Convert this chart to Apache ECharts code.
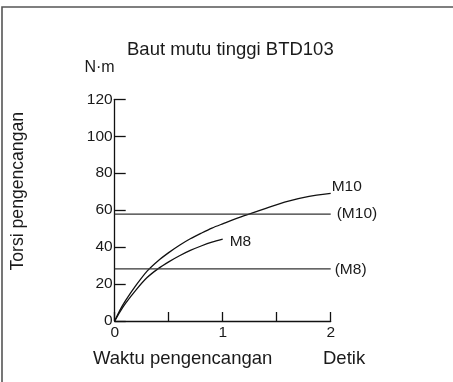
<!DOCTYPE html>
<html>
<head>
<meta charset="utf-8">
<script src="https://cdn.jsdelivr.net/npm/echarts@6/dist/echarts.min.js"></script>
<style>
  html, body { margin: 0; padding: 0; background: #fff; }
  #chart { width: 453px; height: 382px; }
</style>
</head>
<body>
<div id="chart"></div>
<script>
// Tightening time (s) vs. tightening torque (N·m) for BTD103 high-strength bolts
const m10Time   = [0, 0.05, 0.1, 0.2, 0.3, 0.4, 0.5, 0.6, 0.7, 0.8, 0.9, 1.0, 1.2, 1.4, 1.6, 1.8, 2.0];
const m10Torque = [0, 6, 11, 19.5, 27, 32.5, 37, 41, 44.5, 47.5, 50.3, 52.6, 57, 61, 64.8, 67.5, 69.1];
const m8Time    = [0, 0.05, 0.1, 0.2, 0.3, 0.4, 0.5, 0.6, 0.7, 0.8, 0.9, 1.0];
const m8Torque  = [0, 5, 9.5, 17, 23.5, 28.2, 32, 35.3, 38.2, 40.6, 42.7, 44.3];
// Reference torque levels
const refNames  = ['(M10)', '(M8)'];
const refLevels = [57.8, 28.2];
const refSpan   = [0, 2];
const xTickLabels = ['0', '1', '2'];
const yTicks = [0, 20, 40, 60, 80, 100, 120];

const FONT = '"Liberation Sans", Arial, sans-serif';
const INK = '#1a1a1a';

function pairs(xs, ys) { return xs.map((x, i) => [x, ys[i]]); }

function endLabel(text, offset) {
  return { show: true, formatter: text, distance: 0, offset: offset,
    fontFamily: FONT, fontSize: 15.5, color: INK };
}

const curveStyle = { color: '#111', width: 1.3 };
const refStyle = { color: '#333', width: 1.3 };

const series = [
  { name: 'M10', type: 'line', smooth: 0.3, symbol: 'none', showSymbol: false,
    lineStyle: curveStyle, silent: true,
    endLabel: endLabel('M10', [1, -7]),
    data: pairs(m10Time, m10Torque) },
  { name: 'M8', type: 'line', smooth: 0.3, symbol: 'none', showSymbol: false,
    lineStyle: curveStyle, silent: true,
    endLabel: endLabel('M8', [7, 3]),
    data: pairs(m8Time, m8Torque) }
];
const refOffsets = [[6, 0], [4, 1]];
refLevels.forEach((lv, i) => {
  series.push({ name: refNames[i], type: 'line', symbol: 'none', showSymbol: false,
    lineStyle: refStyle, silent: true,
    endLabel: endLabel(refNames[i], refOffsets[i]),
    data: refSpan.map(x => [x, lv]) });
});

const chart = echarts.init(document.getElementById('chart'), null, { renderer: 'canvas' });
chart.setOption({
  animation: false,
  backgroundColor: '#fff',
  title: {
    text: 'Baut mutu tinggi BTD103',
    left: 122, top: 35,
    textStyle: { fontFamily: FONT, fontSize: 18.5, fontWeight: 'normal', color: INK }
  },
  grid: { left: 114.7, right: 122.3, top: 99.3, bottom: 61, containLabel: false },
  xAxis: {
    type: 'value', min: 0, max: 2, interval: 0.5,
    axisLine: { show: true, lineStyle: { color: '#111', width: 1.3 } },
    axisTick: { show: true, inside: true, length: 9, lineStyle: { color: '#111', width: 1.3 } },
    axisLabel: {
      margin: 4, fontFamily: FONT, fontSize: 15.5, color: INK,
      formatter: v => (Number.isInteger(v) ? xTickLabels[v] : '')
    },
    splitLine: { show: false }
  },
  yAxis: {
    type: 'value', min: yTicks[0], max: yTicks[yTicks.length - 1], interval: 20,
    name: 'N·m', nameLocation: 'end', nameGap: 32,
    nameTextStyle: { fontFamily: FONT, fontSize: 16, color: INK, align: 'right', verticalAlign: 'middle' },
    axisLine: { show: true, lineStyle: { color: '#111', width: 1.3 } },
    axisTick: { show: true, inside: true, length: 11, lineStyle: { color: '#111', width: 1.3 } },
    axisLabel: { margin: 2, fontFamily: FONT, fontSize: 15.5, color: INK },
    splitLine: { show: false }
  },
  graphic: [
    { type: 'rect', silent: true, z: -1,
      shape: { x: 2, y: 7, width: 470, height: 400 },
      style: { fill: 'none', stroke: '#555', lineWidth: 1.6 } },
    { type: 'text', left: 9, top: 112, rotation: Math.PI / 2, silent: true,
      style: { text: 'Torsi pengencangan', fontFamily: FONT, fontSize: 17.6, fill: INK } },
    { type: 'text', left: 93, top: 349, silent: true,
      style: { text: 'Waktu pengencangan', fontFamily: FONT, fontSize: 18.5, fill: INK } },
    { type: 'text', left: 323, top: 349, silent: true,
      style: { text: 'Detik', fontFamily: FONT, fontSize: 18.5, fill: INK } }
  ],
  series: series
});
</script>
</body>
</html>
